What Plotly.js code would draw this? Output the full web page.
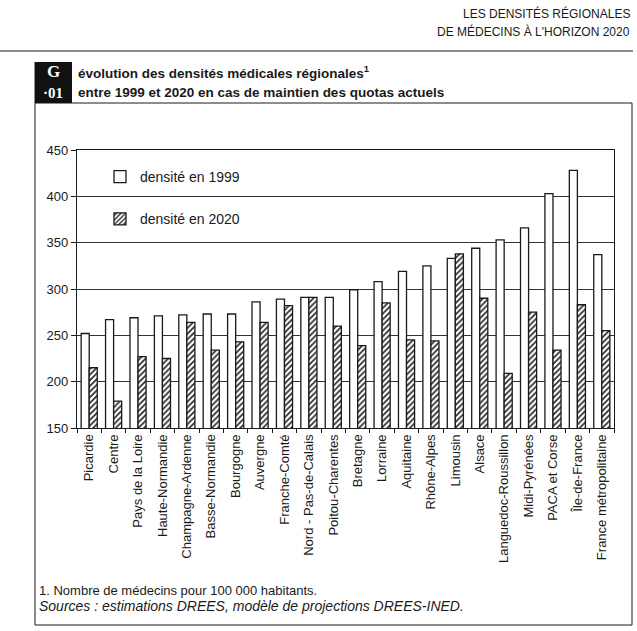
<!DOCTYPE html>
<html>
<head>
<meta charset="utf-8">
<script src="https://cdn.plot.ly/plotly-3.0.1.min.js"></script>
<style>
  html, body { margin: 0; padding: 0; background: #ffffff; }
  #chart { width: 637px; height: 631px; }
</style>
</head>
<body>
<div id="chart"></div>
<script>
const regions = [
  "Picardie", "Centre", "Pays de la Loire", "Haute-Normandie", "Champagne-Ardenne",
  "Basse-Normandie", "Bourgogne", "Auvergne", "Franche-Comté", "Nord - Pas-de-Calais",
  "Poitou-Charentes", "Bretagne", "Lorraine", "Aquitaine", "Rhône-Alpes", "Limousin",
  "Alsace", "Languedoc-Roussillon", "Midi-Pyrénées", "PACA et Corse", "Île-de-France",
  "France métropolitaine"
];
const density1999 = [252, 267, 269, 271, 272, 273, 273, 286, 289, 291, 291, 299, 308, 319, 325, 333, 344, 353, 366, 403, 428, 337];
const density2020 = [215, 179, 227, 225, 264, 234, 243, 264, 282, 291, 260, 239, 285, 245, 244, 338, 290, 209, 275, 234, 283, 255];
const yTicks = [150, 200, 250, 300, 350, 400, 450];
const seriesNames = ["densité en 1999", "densité en 2020"];

// plot area in pixels
const L = 77, R = 614, T = 150, B = 428;
const W = 637, H = 631;
const px = x => (x - L) / (R - L);
const py = y => (B - y) / (B - T);

const FONT = "Liberation Sans, Arial, sans-serif";
const INK = "#1a1a1a";

const traces = [
  {
    type: "bar", name: seriesNames[0], x: regions, y: density1999,
    marker: { color: "#ffffff", line: { color: INK, width: 1.3 } },
    legendgroup: "a"
  },
  {
    type: "bar", name: seriesNames[1], x: regions, y: density2020,
    marker: {
      color: "#ffffff",
      line: { color: INK, width: 1.3 },
      pattern: { shape: "/", fgcolor: "#222222", bgcolor: "#ffffff", size: 4, solidity: 0.4 }
    },
    legendgroup: "b"
  }
];

const shapes = [
  // header rule
  { type: "line", xref: "paper", yref: "paper", x0: px(0), x1: px(633), y0: py(51), y1: py(51), line: { color: INK, width: 1.2 } },
  // frame
  { type: "line", xref: "paper", yref: "paper", x0: px(35), x1: px(632), y0: py(103), y1: py(103), line: { color: INK, width: 1 } },
  { type: "line", xref: "paper", yref: "paper", x0: px(35), x1: px(35), y0: py(62), y1: py(625), line: { color: INK, width: 1 } },
  { type: "line", xref: "paper", yref: "paper", x0: px(632), x1: px(632), y0: py(103), y1: py(625), line: { color: INK, width: 1 } },
  { type: "line", xref: "paper", yref: "paper", x0: px(35), x1: px(632), y0: py(625), y1: py(625), line: { color: INK, width: 1 } },
  // logo box
  { type: "rect", xref: "paper", yref: "paper", x0: px(35), x1: px(72), y0: py(62), y1: py(103), fillcolor: "#111111", line: { width: 0 } }
];

const annotations = [
  { xref: "paper", yref: "paper", x: px(632), y: py(14), xanchor: "right", yanchor: "middle", showarrow: false,
    text: "LES DENSITÉS RÉGIONALES", font: { family: FONT, size: 12, color: INK } },
  { xref: "paper", yref: "paper", x: px(632), y: py(31), xanchor: "right", yanchor: "middle", showarrow: false,
    text: "DE MÉDECINS À L'HORIZON 2020", font: { family: FONT, size: 12, color: INK } },
  { xref: "paper", yref: "paper", x: px(53), y: py(72), xanchor: "center", yanchor: "middle", showarrow: false,
    text: "<b>G</b>", font: { family: "Liberation Serif, serif", size: 17, color: "#ffffff" } },
  { xref: "paper", yref: "paper", x: px(53), y: py(93), xanchor: "center", yanchor: "middle", showarrow: false,
    text: "<b>·01</b>", font: { family: "Liberation Serif, serif", size: 15, color: "#ffffff" } },
  { xref: "paper", yref: "paper", x: px(76), y: py(72), xanchor: "left", yanchor: "middle", showarrow: false,
    text: "<b>évolution des densités médicales régionales<sup>1</sup></b>", font: { family: FONT, size: 13.5, color: INK } },
  { xref: "paper", yref: "paper", x: px(76), y: py(92), xanchor: "left", yanchor: "middle", showarrow: false,
    text: "<b>entre 1999 et 2020 en cas de maintien des quotas actuels</b>", font: { family: FONT, size: 13.5, color: INK } },
  { xref: "paper", yref: "paper", x: px(37), y: py(590), xanchor: "left", yanchor: "middle", showarrow: false,
    text: "1. Nombre de médecins pour 100 000 habitants.", font: { family: FONT, size: 13, color: INK } },
  { xref: "paper", yref: "paper", x: px(37), y: py(606), xanchor: "left", yanchor: "middle", showarrow: false,
    text: "<i>Sources : estimations DREES, modèle de projections DREES-INED.</i>", font: { family: FONT, size: 14, color: INK } }
];

const layout = {
  width: W, height: H,
  margin: { l: L, r: W - R, t: T, b: H - B, pad: 0 },
  paper_bgcolor: "#ffffff", plot_bgcolor: "#ffffff",
  font: { family: FONT, color: INK },
  barmode: "group", bargap: 0.34, bargroupgap: 0,
  showlegend: true,
  legend: {
    x: px(100), y: py(161), xanchor: "left", yanchor: "top",
    bgcolor: "rgba(0,0,0,0)", borderwidth: 0,
    traceorder: "grouped", tracegroupgap: 21,
    font: { family: FONT, size: 14, color: INK }
  },
  xaxis: {
    type: "category", tickangle: -90, tickson: "boundaries",
    ticks: "outside", ticklen: 4, tickcolor: INK,
    showline: true, linecolor: INK, linewidth: 1.2, mirror: true,
    showgrid: false, tickfont: { family: FONT, size: 13, color: INK }
  },
  yaxis: {
    range: [150, 450], tickvals: yTicks, ticks: "outside", ticklen: 5, tickcolor: INK,
    showline: true, linecolor: INK, linewidth: 1.2, mirror: true,
    showgrid: true, gridcolor: "#333333", gridwidth: 1, zeroline: false,
    tickfont: { family: FONT, size: 13, color: INK }
  },
  shapes: shapes,
  annotations: annotations
};

Plotly.newPlot("chart", traces, layout, { displayModeBar: false, staticPlot: true });
</script>
</body>
</html>
